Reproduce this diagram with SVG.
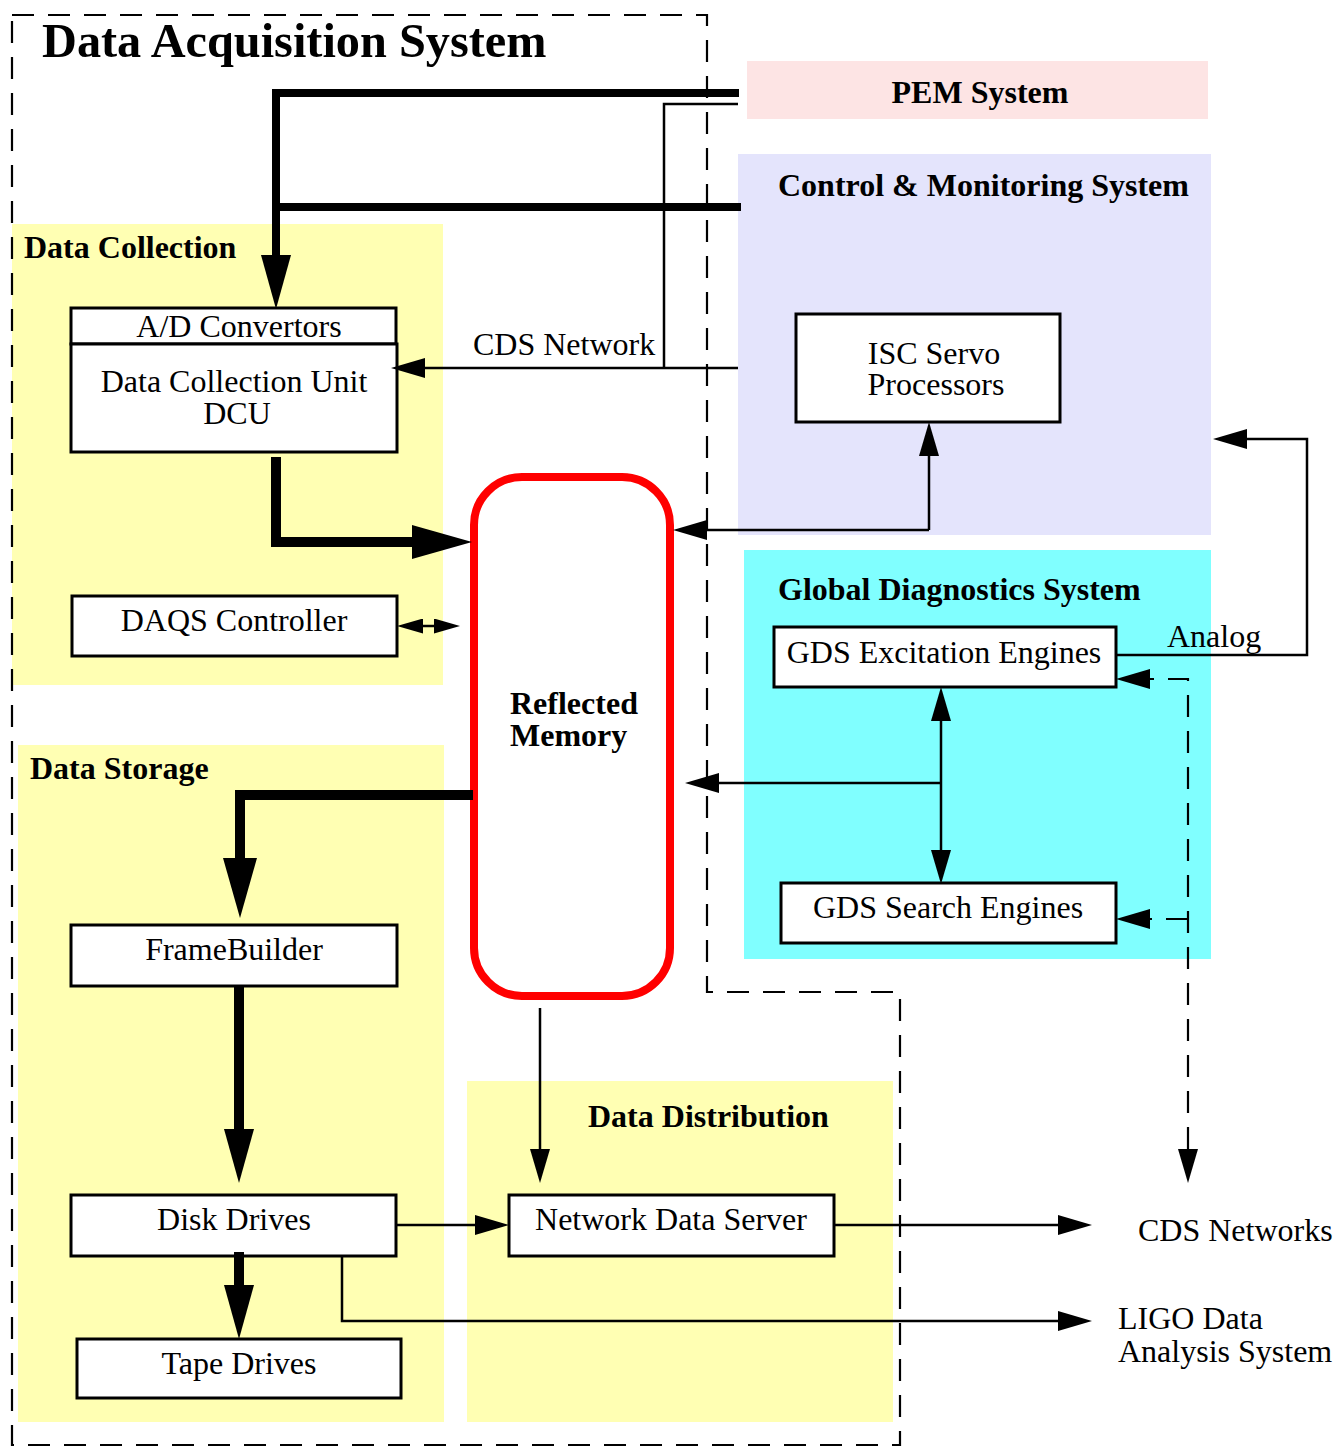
<svg xmlns="http://www.w3.org/2000/svg" width="1336" height="1447" viewBox="0 0 1336 1447">
<style>
  .bg-y { fill: #ffffb3; }
  .node { fill: #ffffff; stroke: #000; stroke-width: 3; }
  .t { font-family: "Liberation Serif", "Times New Roman", serif; font-size: 32px; fill: #000; }
  .b { font-family: "Liberation Serif", "Times New Roman", serif; font-size: 32px; font-weight: bold; fill: #000; }
  .mid { text-anchor: middle; }
  .thick { fill: none; stroke: #000; stroke-width: 8; stroke-linejoin: miter; }
  .thick2 { fill: none; stroke: #000; stroke-width: 10; stroke-linejoin: miter; }
  .thin { fill: none; stroke: #000; stroke-width: 2.5; }
  .dash { fill: none; stroke: #000; stroke-width: 2.2; stroke-dasharray: 22 14; }
</style>
<defs>
  <marker id="big1" markerUnits="userSpaceOnUse" viewBox="0 -15 54 30" markerWidth="54" markerHeight="30" refX="0" refY="0" orient="auto-start-reverse">
    <path d="M0,-15 L54,0 L0,15 Z" fill="#000"/>
  </marker>
  <marker id="big2" markerUnits="userSpaceOnUse" viewBox="0 -17 60 34" markerWidth="60" markerHeight="34" refX="0" refY="0" orient="auto-start-reverse">
    <path d="M0,-17 L60,0 L0,17 Z" fill="#000"/>
  </marker>
  <marker id="sm" markerUnits="userSpaceOnUse" viewBox="0 -10 34 20" markerWidth="34" markerHeight="20" refX="0" refY="0" orient="auto-start-reverse">
    <path d="M0,-10 L34,0 L0,10 Z" fill="#000"/>
  </marker>
  <marker id="tiny" markerUnits="userSpaceOnUse" viewBox="0 -7.5 26 15" markerWidth="26" markerHeight="15" refX="0" refY="0" orient="auto-start-reverse">
    <path d="M0,-7.5 L26,0 L0,7.5 Z" fill="#000"/>
  </marker>
</defs>

<rect width="1336" height="1447" fill="#ffffff"/>

<!-- background system regions -->
<g id="pem-system">
  <rect x="747" y="61" width="461" height="58" fill="#fde4e4"/>
  <text class="b mid" x="980" y="103">PEM System</text>
</g>
<g id="control-monitoring-system">
  <rect x="738" y="154" width="473" height="381" fill="#e4e4fc"/>
  <text class="b" x="778" y="196">Control &amp; Monitoring System</text>
</g>
<g id="global-diagnostics-system">
  <rect x="744" y="550" width="467" height="409" fill="#80ffff"/>
  <text class="b" x="778" y="600">Global Diagnostics System</text>
</g>
<g id="data-collection">
  <rect class="bg-y" x="12" y="224" width="431" height="461"/>
  <text class="b" x="24" y="258">Data Collection</text>
</g>
<g id="data-storage">
  <rect class="bg-y" x="18" y="745" width="426" height="677"/>
  <text class="b" x="30" y="779">Data Storage</text>
</g>
<g id="data-distribution">
  <rect class="bg-y" x="467" y="1081" width="426" height="341"/>
  <text class="b" x="588" y="1127">Data Distribution</text>
</g>

<!-- outer DAQ boundary -->
<g id="data-acquisition-system">
  <path class="dash" d="M12,15 H707 V992 H900 V1445 H12 Z"/>
  <text class="b" x="42" y="57" style="font-size:48.3px">Data Acquisition System</text>
</g>

<!-- nodes -->
<g id="ad-convertors">
  <rect class="node" x="71" y="308" width="325" height="36"/>
  <text class="t mid" x="239" y="337">A/D Convertors</text>
</g>
<g id="dcu">
  <rect class="node" x="71" y="344" width="326" height="108"/>
  <text class="t mid" x="234" y="392">Data Collection Unit</text>
  <text class="t mid" x="237" y="424">DCU</text>
</g>
<g id="daqs-controller">
  <rect class="node" x="72" y="596" width="325" height="60"/>
  <text class="t mid" x="234" y="631">DAQS Controller</text>
</g>
<g id="reflected-memory">
  <rect x="474" y="477" width="196" height="519" rx="48" ry="48" fill="#ffffff" stroke="#ff0000" stroke-width="8"/>
  <text class="b" x="510" y="714">Reflected</text>
  <text class="b" x="510" y="746">Memory</text>
</g>
<g id="isc-servo-processors">
  <rect class="node" x="796" y="314" width="264" height="108"/>
  <text class="t mid" x="934" y="364">ISC Servo</text>
  <text class="t mid" x="936" y="395">Processors</text>
</g>
<g id="gds-excitation-engines">
  <rect class="node" x="774" y="627" width="342" height="60"/>
  <text class="t mid" x="944" y="663">GDS Excitation Engines</text>
</g>
<g id="gds-search-engines">
  <rect class="node" x="781" y="883" width="335" height="60"/>
  <text class="t mid" x="948" y="918">GDS Search Engines</text>
</g>
<g id="framebuilder">
  <rect class="node" x="71" y="925" width="326" height="61"/>
  <text class="t mid" x="234" y="960">FrameBuilder</text>
</g>
<g id="disk-drives">
  <rect class="node" x="71" y="1195" width="325" height="61"/>
  <text class="t mid" x="234" y="1230">Disk Drives</text>
</g>
<g id="tape-drives">
  <rect class="node" x="77" y="1339" width="324" height="59"/>
  <text class="t mid" x="239" y="1374">Tape Drives</text>
</g>
<g id="network-data-server">
  <rect class="node" x="509" y="1195" width="325" height="61"/>
  <text class="t mid" x="671" y="1230">Network Data Server</text>
</g>
<g id="cds-networks">
  <text class="t" x="1138" y="1241">CDS Networks</text>
</g>
<g id="ligo-data-analysis">
  <text class="t" x="1118" y="1329">LIGO Data</text>
  <text class="t" x="1118" y="1362">Analysis System</text>
</g>

<!-- connectors -->
<g id="connectors">
  <path class="thick" d="M739,93 H276 V255" marker-end="url(#big1)"/>
  <path class="thick" d="M741,207 H276"/>
  <path class="thin" d="M738,104 H664 V368"/>
  <path class="thin" d="M738,368 H425" marker-end="url(#sm)"/>
  <text class="t" x="473" y="355">CDS Network</text>
  <path class="thick2" d="M276,457 V542 H412" marker-end="url(#big2)"/>
  <path class="thin" d="M423,626 H434" marker-start="url(#tiny)" marker-end="url(#tiny)"/>
  <path class="thin" d="M929,530 H707" marker-end="url(#sm)"/>
  <path class="thin" d="M929,530 V456" marker-end="url(#sm)"/>
  <path class="thin" d="M1116,655 H1307 V439 H1247" marker-end="url(#sm)"/>
  <text class="t" x="1167" y="647">Analog</text>
  <path class="thin" d="M941,721 V850" marker-start="url(#sm)" marker-end="url(#sm)"/>
  <path class="thin" d="M941,783 H719" marker-end="url(#sm)"/>
  <path class="dash" d="M1188,1149 V679 H1150" marker-start="url(#sm)" marker-end="url(#sm)"/>
  <path class="dash" d="M1188,919 H1150" marker-end="url(#sm)"/>
  <path class="thick2" d="M473,795 H240 V858" marker-end="url(#big2)"/>
  <path class="thick2" d="M239,986 V1129" marker-end="url(#big1)"/>
  <path class="thick2" d="M239,1252 V1285" marker-end="url(#big1)"/>
  <path class="thin" d="M540,1008 V1149" marker-end="url(#sm)"/>
  <path class="thin" d="M396,1225 H475" marker-end="url(#sm)"/>
  <path class="thin" d="M834,1225 H1058" marker-end="url(#sm)"/>
  <path class="thin" d="M342,1256 V1321 H1058" marker-end="url(#sm)"/>
</g>
</svg>
